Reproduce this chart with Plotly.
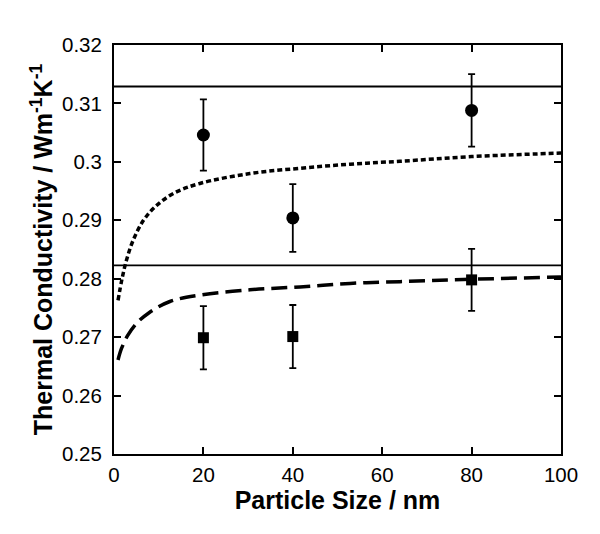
import plotly.graph_objects as go

# measured points (particle size in nm, conductivity in W/mK)
size_pts = [20, 40, 80]
circle_k = [0.3046, 0.2904, 0.3088]
circle_err = [0.0061, 0.0058, 0.0062]
square_k = [0.2699, 0.2701, 0.2798]
square_err = [0.0054, 0.0054, 0.0053]

# reference levels (horizontal lines)
upper_level = 0.3129
lower_level = 0.2823

# model curves
dotted_x = [0.9, 1.8, 2.8, 4.3, 6.6, 9.2, 13.3, 19.2, 30.4, 41.6, 52.8, 64, 80, 100]
dotted_y = [0.2763, 0.2800, 0.2832, 0.2866, 0.2900, 0.2923, 0.2946, 0.2963, 0.2980, 0.2989, 0.2996, 0.3001, 0.3009, 0.3015]
dashed_x = [0.9, 1.7, 3.0, 5.1, 7.7, 12.5, 19.2, 30.4, 41.6, 52.8, 64, 80, 100]
dashed_y = [0.2661, 0.2681, 0.2702, 0.2724, 0.2741, 0.2761, 0.2772, 0.2781, 0.2786, 0.2792, 0.2795, 0.2799, 0.2803]

yticks = [0.25, 0.26, 0.27, 0.28, 0.29, 0.30, 0.31, 0.32]
ytick_labels = ["0.25", "0.26", "0.27", "0.28", "0.29", "0.3", "0.31", "0.32"]
xticks = [0, 20, 40, 60, 80, 100]

fig = go.Figure()

for lvl in [upper_level, lower_level]:
    fig.add_trace(go.Scatter(x=[0, 100], y=[lvl, lvl], mode="lines",
                             line=dict(color="black", width=1.8), showlegend=False))

fig.add_trace(go.Scatter(x=dotted_x, y=dotted_y, mode="lines", line_shape="spline",
                         line=dict(color="black", width=3.5, dash="5px,3px"), showlegend=False))
fig.add_trace(go.Scatter(x=dashed_x, y=dashed_y, mode="lines", line_shape="spline",
                         line=dict(color="black", width=3.5, dash="16px,7px"), showlegend=False))

fig.add_trace(go.Scatter(x=size_pts, y=circle_k, mode="markers",
                         marker=dict(symbol="circle", size=13, color="black"),
                         error_y=dict(type="data", array=circle_err, color="black",
                                      thickness=1.8, width=3.5),
                         showlegend=False))
fig.add_trace(go.Scatter(x=size_pts, y=square_k, mode="markers",
                         marker=dict(symbol="square", size=11, color="black"),
                         error_y=dict(type="data", array=square_err, color="black",
                                      thickness=1.8, width=3.5),
                         showlegend=False))

axis_common = dict(showgrid=False, zeroline=False, showline=True, linecolor="black",
                   linewidth=2, ticks="inside", ticklen=7, tickwidth=2, tickcolor="black",
                   mirror="ticks", automargin=False, tickfont=dict(size=20.5, color="black"))

fig.update_xaxes(range=[0, 100], tickvals=xticks, ticklabelstandoff=1,
                 title=dict(text="<b>Particle Size / nm</b>", font=dict(size=25, color="black"),
                            standoff=2),
                 **axis_common)
fig.update_yaxes(range=[0.25, 0.32], tickvals=yticks, ticktext=ytick_labels, ticklabelstandoff=6,
                 title=dict(text="<b>Thermal Conductivity / Wm<sup>-1</sup>K<sup>-1</sup></b>",
                            font=dict(size=25, color="black"), standoff=2),
                 **axis_common)

# the page body adds an 8px offset, margins compensate for it
fig.update_layout(width=600, height=534, plot_bgcolor="white", paper_bgcolor="white",
                  font=dict(family="Liberation Sans, Arial, sans-serif", color="black"),
                  margin=dict(l=106, r=47, t=37, b=88))

fig.write_html("out.html")
